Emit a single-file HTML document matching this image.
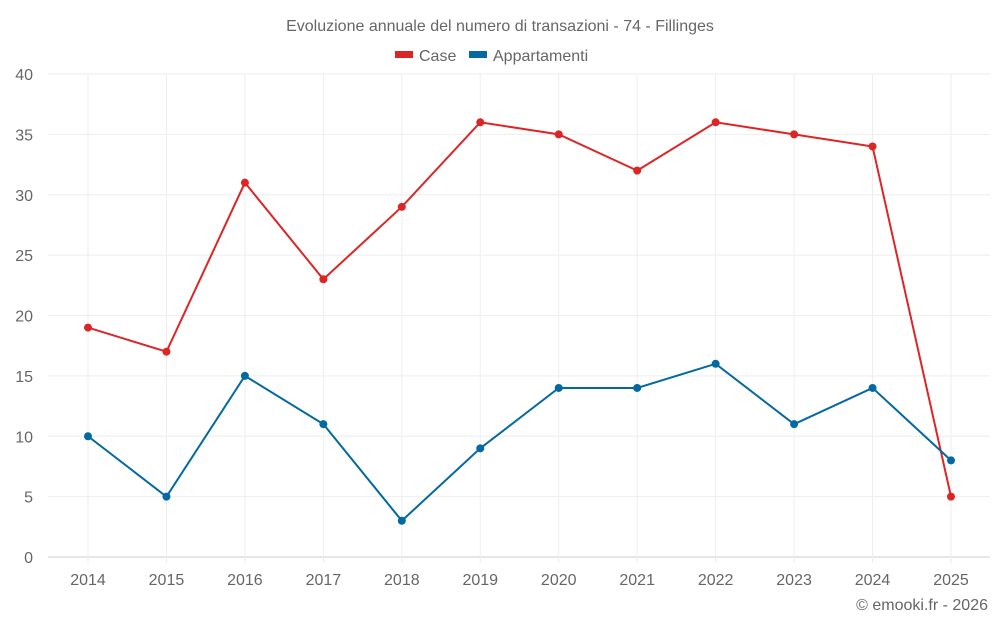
<!DOCTYPE html>
<html><head><meta charset="utf-8"><style>
body{margin:0;background:#fff;font-family:"Liberation Sans",sans-serif;}
svg text{font-family:"Liberation Sans",sans-serif;fill:#666;}
</style></head><body>
<svg id="chart" width="1000" height="625">
<text x="500" y="31" text-anchor="middle" font-size="16">Evoluzione annuale del numero di transazioni - 74 - Fillinges</text>
<g>
<rect x="395" y="51" width="18" height="7" fill="#dc2626"/>
<text x="419" y="61" font-size="16">Case</text>
<rect x="469" y="51" width="18" height="7" fill="#0369a1"/>
<text x="493" y="61" font-size="16">Appartamenti</text>
</g>
<g id="grid"></g><g id="axes"></g><g id="series"></g>
<text x="988" y="610" text-anchor="end" font-size="16">© emooki.fr - 2026</text>
</svg>
<script>
const years=["2014","2015","2016","2017","2018","2019","2020","2021","2022","2023","2024","2025"];
const caseValues=[19,17,31,23,29,36,35,32,36,35,34,5];
const appValues=[10,5,15,11,3,9,14,14,16,11,14,8];
const yTicks=[0,5,10,15,20,25,30,35,40];
const NS="http://www.w3.org/2000/svg";
const plotLeft=48,plotRight=990,plotTop=74,plotBottom=557,yMax=40;
const xs=i=>88+i*(951-88)/(years.length-1);
const ys=v=>plotBottom-(v/yMax)*(plotBottom-plotTop);
function mk(t,a,p){const e=document.createElementNS(NS,t);for(const k in a)e.setAttribute(k,a[k]);p.appendChild(e);return e;}
const grid=document.getElementById('grid'),axes=document.getElementById('axes'),series=document.getElementById('series');
yTicks.forEach(v=>{
 const l=mk('line',{x1:plotLeft,x2:plotRight,y1:ys(v),y2:ys(v),stroke:v===0?'#ccc':'#eee'},grid);
 
 
 const t=mk('text',{x:33,y:ys(v)+6,'text-anchor':'end','font-size':16},axes);t.textContent=v;
 
 
});
years.forEach((y,i)=>{
 const l=mk('line',{x1:xs(i),x2:xs(i),y1:plotTop,y2:plotBottom+6,stroke:'#eee'},grid);
 
 
 const t=mk('text',{x:xs(i),y:585,'text-anchor':'middle','font-size':16},axes);t.textContent=y;
 
 
});
[[caseValues,'#dc2626','case'],[appValues,'#0369a1','appartamenti']].forEach(([vals,c,n])=>{
 const p=mk('polyline',{points:vals.map((v,i)=>xs(i)+','+ys(v)).join(' '),fill:'none',stroke:c,'stroke-width':2},series);
 
 
 vals.forEach((v,i)=>{
  const d=mk('circle',{cx:xs(i),cy:ys(v),r:4,fill:c},series);
  
  
 });
});
</script>
</body></html>
